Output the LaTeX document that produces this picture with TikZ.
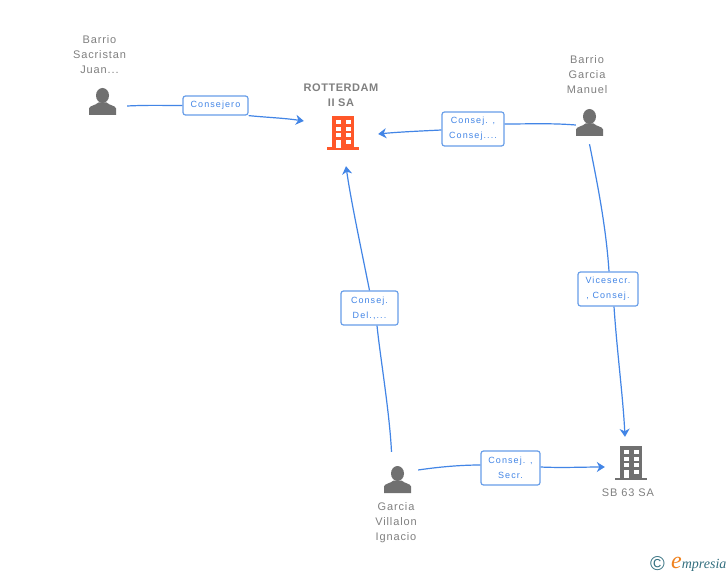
\documentclass[tikz,border=0pt]{standalone}
\usepackage{fontspec}
\setmainfont{Liberation Sans}
\newfontfamily\spacedfont[LetterSpace=8]{Liberation Sans}
\newfontfamily\firmfont[LetterSpace=5]{Liberation Sans}
\newfontfamily\rolefont[LetterSpace=12]{Liberation Sans}
\newfontfamily\logofont{Liberation Serif}
\usetikzlibrary{arrows.meta, positioning, calc}
\definecolor{linkblue}{RGB}{66, 133, 230}
\definecolor{boxblue}{RGB}{104, 158, 232}
\definecolor{rolegray}{RGB}{128, 128, 128}
\definecolor{icongray}{RGB}{112, 112, 112}
\definecolor{brandorange}{RGB}{255, 87, 41}
\definecolor{logoteal}{RGB}{52, 112, 128}
\definecolor{logoorange}{RGB}{240, 130, 30}

\begin{document}
\begin{tikzpicture}[
        x=1pt, y=-1pt,
        person/.style={rectangle, inner sep=0pt, minimum width=27pt, minimum height=27pt,
            path picture={
                \fill[icongray] (0pt,6pt) ellipse (6.5pt and 7.5pt);
                \fill[icongray] (-13.5pt,-13.5pt) -- (-13.5pt,-7pt) .. controls (-13pt,-4pt) and (-7pt,-4pt) .. (-4pt,-1pt)
                    -- (4pt,-1pt) .. controls (7pt,-4pt) and (13pt,-4pt) .. (13.5pt,-7pt) -- (13.5pt,-13.5pt) -- cycle;
            }},
        building/.style={rectangle, inner sep=0pt, minimum width=32pt, minimum height=34pt,
            path picture={
                \fill[#1] (-11pt,17pt) rectangle (11pt,-15pt);
                \fill[#1] (-16pt,-14.5pt) rectangle (16pt,-17pt);
                \foreach \rowy in {13, 6.3, -0.3, -7} {
                    \fill[white] (-7.3pt,\rowy pt) rectangle (-2.3pt,\rowy pt - 4pt);
                    \fill[white] (2.7pt,\rowy pt) rectangle (7.7pt,\rowy pt - 4pt);
                }
                \fill[white] (-7.3pt,-10pt) rectangle (-2.3pt,-14.7pt);
            }},
        nametext/.style={inner sep=0pt, align=center, text=rolegray, font=\spacedfont\fontsize{11}{15}\selectfont},
        firmtext/.style={inner sep=0pt, align=center, text=rolegray, font=\firmfont\bfseries\fontsize{11}{15}\selectfont},
        rolebox/.style={rectangle, draw=boxblue, fill=white, line width=1.2pt, rounded corners=2.5pt, inner sep=0pt,
            align=center, text=linkblue, font=\rolefont\fontsize{9}{15}\selectfont},
        link/.style={draw=linkblue, line width=1.2pt},
        linkarrow/.style={link, -{Stealth[length=8pt, width=10pt, inset=2.5pt]}}
    ]
        \path[fill=white, use as bounding box] (0,0) rectangle (728,575);

        % Icons
        \node[person] (sacristan) at (102.5,101.5) {};
        \node[person] (manuel) at (589.5,122.5) {};
        \node[person] (villalon) at (397.5,479.5) {};
        \node[building=brandorange] (rotterdam) at (343,133) {};
        \node[building=icongray] (sbsa) at (631,463) {};

        % Names
        \node[nametext, above=14pt of sacristan, xshift=-3pt] (sacristanname) {Barrio\\Sacristan\\Juan...};
        \node[nametext, above=15pt of manuel, xshift=-2.5pt] (manuelname) {Barrio\\Garcia\\Manuel};
        \node[nametext, below=9.5pt of villalon, xshift=-1.5pt] (villalonname) {Garcia\\Villalon\\Ignacio};
        \node[firmtext, above=9pt of rotterdam, xshift=-2pt] (rotterdamname) {ROTTERDAM\\II SA};
        \node[nametext, below=8pt of sbsa, xshift=-3pt] (sbsaname) {SB 63 SA};

        % Role boxes
        \node[rolebox, minimum width=65pt, minimum height=19pt] (consejero) at (215.5,105.5) {Consejero};
        \node[rolebox, minimum width=62pt, minimum height=34pt] (consejos) at (473,129) {Consej. ,\\Consej....};
        \node[rolebox, minimum width=57pt, minimum height=34pt] (delegado) at (369.5,308) {Consej.\\Del.,...};
        \node[rolebox, minimum width=60pt, minimum height=34pt] (vicesecr) at (608,289) {Vicesecr.\\, Consej.};
        \node[rolebox, minimum width=59pt, minimum height=34pt] (secr) at (510.5,468) {Consej. ,\\Secr.};

        % Links
        \draw[link] ($(sacristan.east)+(11,4.5)$) .. controls +(20,-1) and +(-20,0) .. (consejero.west);
        \draw[linkarrow] (consejero.south east) .. controls +(20,2) and +(-20,-3) .. ($(rotterdam.west)+(-23,-12)$);
        \draw[link] ($(manuel.west)+(0,2.5)$) .. controls +(-25,-2) and +(25,0) .. ($(consejos.east)+(0,-5)$);
        \draw[linkarrow] ($(consejos.west)+(0,1)$) .. controls +(-20,1) and +(20,-2) .. ($(rotterdam.east)+(19,1)$);
        \draw[link] ($(villalon.north)+(-6,-14)$) .. controls +(-2,-40) and +(3,30) .. ($(delegado.south)+(7.5,0)$);
        \draw[linkarrow] (delegado.north) .. controls +(-8,-40) and +(5,35) .. ($(rotterdam.south)+(3,16)$);
        \draw[link] ($(manuel.south)+(0,8)$) .. controls +(8,40) and +(-3,-45) .. ($(vicesecr.north)+(1,0)$);
        \draw[linkarrow] ($(vicesecr.south)+(6,0)$) .. controls +(3,45) and +(-2,-40) .. ($(sbsa.north)+(-6,-9)$);
        \draw[link] ($(villalon.east)+(7,-9.5)$) .. controls +(20,-3) and +(-20,0) .. ($(secr.west)+(0,-3)$);
        \draw[linkarrow] ($(secr.east)+(0,-1)$) .. controls +(20,1) and +(-20,0) .. ($(sbsa.west)+(-10,4)$);

        % Logo
        \node[inner sep=0pt, text=logoteal, font=\fontsize{20}{20}\selectfont] (copymark) at (657.5,564) {\textcopyright};
        \node[inner sep=0pt, anchor=base west, text=logoteal, font=\logofont\itshape\fontsize{14}{14}\selectfont] (logotext) at (671,568)
            {{\fontsize{24}{24}\selectfont\color{logoorange}e}mpresia};
    \end{tikzpicture}
\end{document}
